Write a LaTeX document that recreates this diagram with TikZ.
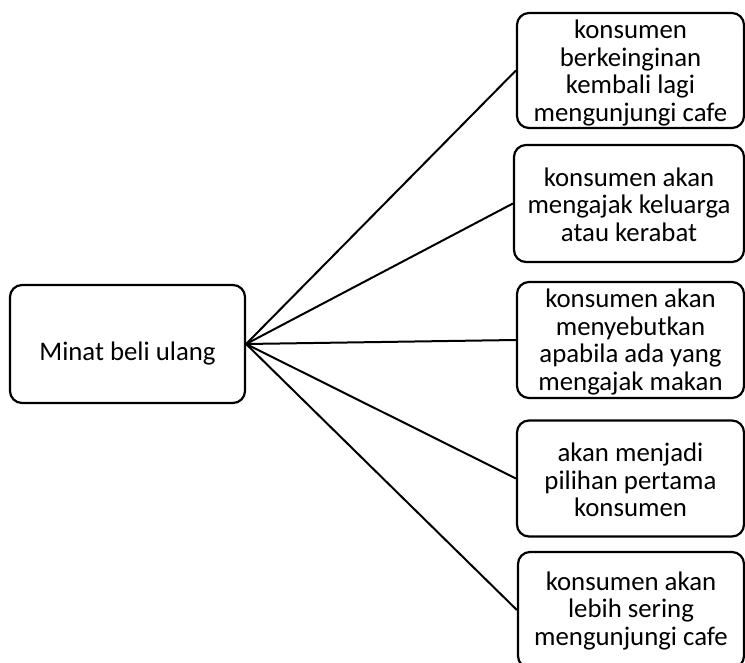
\documentclass[tikz,border=0pt]{standalone}
\usepackage{fontspec}
\setmainfont{Carlito}
\usetikzlibrary{positioning}

\begin{document}
\begin{tikzpicture}[x=1pt,y=-1pt,
    kotak/.style={draw, rounded corners=12pt, line width=2.2pt, minimum width=227pt,
      minimum height=116pt, inner sep=0pt, font=\fontsize{26.8}{27.5}\selectfont},
    isi/.style={anchor=north, inner sep=0pt, align=center, font=\fontsize{26.8}{27.5}\selectfont},
    garis/.style={line width=2pt}]
  \useasboundingbox (0,0) rectangle (745,663); %fixing margins

  % left box
  \node[kotak, minimum width=235pt, minimum height=118pt, text height=32pt, text depth=0pt] (minat) at (127.5,344) {Minat beli ulang};

  % right boxes
  \node[kotak, minimum height=115pt] (b1) at (630.5,70.5) {};
  \node[kotak, minimum width=230pt, minimum height=117pt] (b2) at (629,203.5) {};
  \node[kotak] (b3) at (630.5,340) {};
  \node[kotak] (b4) at (630.5,478.5) {};
  \node[kotak, minimum width=226pt] (b5) at (631,610) {};

  % texts of the right boxes
  \node[isi] (t1) at (630.5,20) {konsumen\\ berkeinginan\\ kembali lagi\\ mengunjungi cafe};
  \node[isi] (t2) at (629,167.5) {konsumen akan\\ mengajak keluarga\\ atau kerabat};
  \node[isi] (t3) at (630.5,289) {konsumen akan\\ menyebutkan\\ apabila ada yang\\ mengajak makan};
  \node[isi] (t4) at (630.5,443) {akan menjadi\\ pilihan pertama\\ konsumen};
  \node[isi] (t5) at (631,571.5) {konsumen akan\\ lebih sering\\ mengunjungi cafe};

  % connectors
  \foreach \b in {b1,b2,b3,b4,b5} {
    \draw[garis] (minat.east) -- (\b.west);
  }
\end{tikzpicture}
\end{document}
